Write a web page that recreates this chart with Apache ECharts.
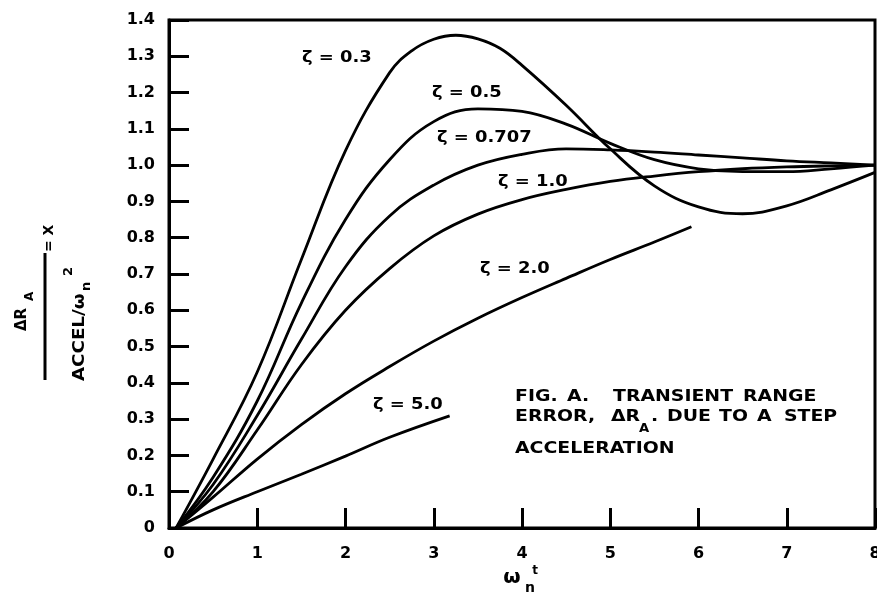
<!DOCTYPE html>
<html><head><meta charset="utf-8">
<script src="https://cdn.jsdelivr.net/npm/echarts@6/dist/echarts.min.js"></script>
<style>html,body{margin:0;padding:0;background:#fff}#c{width:877px;height:592px}</style>
</head><body><div id="c"></div>
<script>
// Values
const zeta03X = [0.08, 0.5, 1.0, 1.5, 2.0, 2.5, 2.75, 3.0, 3.25, 3.5, 3.75, 4.0, 4.5, 5.0, 5.5, 6.0, 6.5, 7.0, 7.5, 8.0];
const zeta03Y = [0, 0.19, 0.43, 0.74, 1.04, 1.255, 1.315, 1.347, 1.358, 1.348, 1.322, 1.275, 1.165, 1.045, 0.943, 0.885, 0.866, 0.888, 0.932, 0.98];
const zeta05X = [0.08, 0.5, 1.0, 1.5, 2.0, 2.5, 3.0, 3.5, 4.0, 4.5, 5.0, 5.5, 6.0, 6.5, 7.0, 7.5, 8.0];
const zeta05Y = [0, 0.14, 0.35, 0.62, 0.85, 1.015, 1.12, 1.155, 1.148, 1.113, 1.06, 1.015, 0.99, 0.982, 0.982, 0.99, 1.0];
const zeta0707X = [0.08, 0.5, 1.0, 1.5, 2.0, 2.5, 3.0, 3.5, 4.0, 4.5, 5.0, 5.5, 6.0, 6.5, 7.0, 7.5, 8.0];
const zeta0707Y = [0, 0.12, 0.31, 0.52, 0.72, 0.86, 0.945, 1.0, 1.03, 1.045, 1.042, 1.036, 1.028, 1.02, 1.012, 1.006, 1.0];
const zeta1X = [0.08, 0.5, 1.0, 1.5, 2.0, 2.5, 3.0, 3.5, 4.0, 4.5, 5.0, 5.5, 6.0, 6.5, 7.0, 7.5, 8.0];
const zeta1Y = [0, 0.10, 0.27, 0.45, 0.60, 0.715, 0.805, 0.865, 0.905, 0.933, 0.955, 0.97, 0.982, 0.99, 0.995, 0.998, 1.0];
const zeta2X = [0.08, 0.5, 1.0, 1.5, 2.0, 2.5, 3.0, 3.5, 4.0, 4.5, 5.0, 5.5, 5.92];
const zeta2Y = [0, 0.085, 0.19, 0.285, 0.37, 0.445, 0.515, 0.578, 0.635, 0.688, 0.74, 0.788, 0.83];
const zeta5X = [0.08, 0.5, 1.0, 1.5, 2.0, 2.5, 3.18];
const zeta5Y = [0, 0.05, 0.10, 0.148, 0.198, 0.25, 0.309];

const seriesNames = ['ζ = 0.3', 'ζ = 0.5', 'ζ = 0.707', 'ζ = 1.0', 'ζ = 2.0', 'ζ = 5.0'];
const seriesXs = [zeta03X, zeta05X, zeta0707X, zeta1X, zeta2X, zeta5X];
const seriesYs = [zeta03Y, zeta05Y, zeta0707Y, zeta1Y, zeta2Y, zeta5Y];

// caption words: text, left, centre y (pixel layout)
const captionWords = [
  ['FIG.', 515, 397], ['A.', 567, 397], ['TRANSIENT', 613, 397], ['RANGE', 743, 397],
  ['ERROR,', 515, 417], ['ΔR', 611, 417], ['.', 651, 417], ['DUE', 667, 417],
  ['TO', 719, 417], ['A', 757, 417], ['STEP', 784, 417],
  ['ACCELERATION', 515, 449]
];
const captionSub = ['A', 639, 429];

const FONT = 'DejaVu Sans';
const chart = echarts.init(document.getElementById('c'), null, {renderer: 'canvas'});

const series = seriesNames.map((n, i) => ({
  name: n, type: 'line', smooth: 0.4, showSymbol: false, silent: true,
  lineStyle: {color: '#000', width: 2.8},
  data: seriesXs[i].map((x, k) => [x, seriesYs[i][k]])
}));

const txt = (text, x, y, size, opts = {}) => ({
  type: 'text', x, y, scaleX: opts.sx || 1, rotation: opts.rot || 0,
  style: {text, fill: '#000', font: `bold ${size}px "${FONT}"`, align: opts.align || 'left', verticalAlign: 'middle'}
});

const labelPos = [[302, 58], [432, 93], [437, 138], [498, 182], [480, 269], [373, 405]];
const graphics = seriesNames.map((n, i) => txt(n, labelPos[i][0], labelPos[i][1], 16, {sx: 1.12}));

captionWords.forEach(w => graphics.push(txt(w[0], w[1], w[2], 16, {sx: 1.18})));
graphics.push(txt(captionSub[0], captionSub[1], captionSub[2], 12, {sx: 1.1}));

// x axis title
graphics.push(txt('ω', 512, 578, 20, {align: 'center'}));
graphics.push(txt('n', 530, 588, 14, {align: 'center'}));
graphics.push(txt('t', 535, 571, 12, {align: 'center'}));

// y axis title (rotated)
graphics.push({type: 'group', x: 22, y: 331, rotation: Math.PI / 2, children: [
  {type: 'text', x: 0, y: 0, style: {text: 'ΔR', fill: '#000', font: `bold 15px "${FONT}"`, verticalAlign: 'middle'}},
  {type: 'text', x: 30, y: 8, style: {text: 'A', fill: '#000', font: `bold 12px "${FONT}"`, verticalAlign: 'middle'}}
]});
graphics.push({type: 'line', shape: {x1: 45, y1: 253, x2: 45, y2: 380}, style: {stroke: '#000', lineWidth: 3}});
graphics.push({type: 'group', x: 49, y: 252, rotation: Math.PI / 2, children: [
  {type: 'text', x: 0, y: 0, style: {text: '= X', fill: '#000', font: `bold 14px "${FONT}"`, verticalAlign: 'middle'}}
]});
graphics.push({type: 'group', x: 80, y: 381, rotation: Math.PI / 2, children: [
  {type: 'text', x: 0, y: 0, scaleX: 1.14, style: {text: 'ACCEL/ω', fill: '#000', font: `bold 16px "${FONT}"`, verticalAlign: 'middle'}},
  {type: 'text', x: 90, y: 7, style: {text: 'n', fill: '#000', font: `bold 13px "${FONT}"`, verticalAlign: 'middle'}},
  {type: 'text', x: 105, y: -11, style: {text: '2', fill: '#000', font: `bold 13px "${FONT}"`, verticalAlign: 'middle'}}
]});

chart.setOption({
  animation: false,
  backgroundColor: '#fff',
  grid: {left: 169, right: 2, top: 20, bottom: 64, containLabel: false, outerBoundsMode: 'none',
    show: true, borderColor: '#000', borderWidth: 3, backgroundColor: 'transparent'},
  xAxis: {
    type: 'value', min: 0, max: 8, interval: 1,
    axisLine: {show: true, lineStyle: {color: '#000', width: 3}},
    axisTick: {show: true, inside: true, length: 20, lineStyle: {color: '#000', width: 3}},
    splitLine: {show: false},
    axisLabel: {margin: 18, color: '#000', fontFamily: FONT, fontWeight: 'bold', fontSize: 16, showMaxLabel: true, showMinLabel: true, hideOverlap: false}
  },
  yAxis: {
    type: 'value', min: 0, max: 1.4, interval: 0.1,
    axisLine: {show: true, lineStyle: {color: '#000', width: 3}},
    axisTick: {show: true, inside: true, length: 20, lineStyle: {color: '#000', width: 3}},
    splitLine: {show: false},
    axisLabel: {margin: 14, color: '#000', fontFamily: FONT, fontWeight: 'bold', fontSize: 16,
      formatter: v => (Math.abs(v) < 1e-9 ? '0' : v.toFixed(1))}
  },
  series: series,
  graphic: graphics
});
</script></body></html>
